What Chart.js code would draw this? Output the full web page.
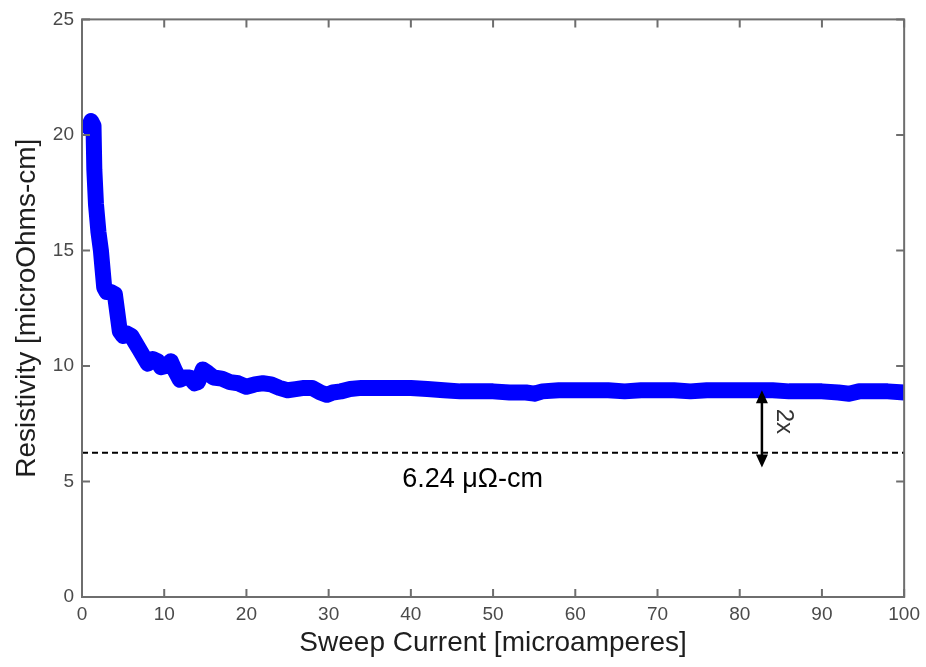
<!DOCTYPE html>
<html>
<head>
<meta charset="utf-8">
<title>Resistivity vs Sweep Current</title>
<script src="https://cdn.jsdelivr.net/npm/chart.js@4"></script>
<style>
  body { margin: 0; background: #fff; }
  canvas { display: block; }
</style>
</head>
<body>
<canvas id="chart" width="926" height="667"></canvas>
<script>
// measured sweep: current in microamperes, resistivity in microOhm-cm
const currentUA = [
  0.9, 1.1, 1.4, 1.5, 1.7, 2.0, 2.3, 2.5, 2.7, 3.0, 3.5, 4.0, 4.3, 4.6, 5.0, 5.5, 6.0,
  6.5, 7.0, 7.5, 8.0, 8.6, 9.2, 9.6, 10.2, 10.8, 11.3, 11.9, 12.5, 13.1, 13.7, 14.1,
  14.7, 15.3, 16, 17, 18, 19, 20, 21, 22, 23, 24, 25, 26, 27, 28, 29, 29.8, 30.5,
  31.5, 32.6, 34, 36, 38, 40, 42, 44, 46, 48, 50, 52, 54, 55, 56, 58, 60, 62, 64,
  66, 68, 70, 72, 74, 76, 78, 80, 82, 84, 86, 88, 90, 92, 93.3, 94.5, 96, 98, 100
];
const resistivity = [
  20.3, 20.6, 20.4, 18.5, 17.0, 15.8, 15.0, 14.2, 13.4, 13.2, 13.2, 13.1, 12.3, 11.5, 11.3, 11.4, 11.3,
  11.0, 10.7, 10.4, 10.1, 10.3, 10.2, 9.95, 10.0, 10.2, 9.8, 9.4, 9.5, 9.5, 9.25, 9.3,
  9.85, 9.7, 9.5, 9.45, 9.3, 9.25, 9.1, 9.2, 9.25, 9.2, 9.05, 8.95, 9.0, 9.05, 9.05, 8.85, 8.75, 8.85,
  8.9, 9.0, 9.05, 9.05, 9.05, 9.05, 9.0, 8.95, 8.9, 8.9, 8.9, 8.85, 8.85, 8.8, 8.9, 8.95, 8.95, 8.95, 8.95,
  8.9, 8.95, 8.95, 8.95, 8.9, 8.95, 8.95, 8.95, 8.95, 8.95, 8.9, 8.9, 8.9, 8.85, 8.8, 8.9, 8.9, 8.9, 8.85
];

// bulk reference value and the ratio marker
const bulkValue = 6.24;
const bulkLabel = '6.24 \u03bc\u03a9-cm';
const ratioLabel = '2x';
const arrowAt = 82.7;
const arrowFrom = 8.95;
const arrowTo = 5.6;

const xTicks = [0, 10, 20, 30, 40, 50, 60, 70, 80, 90, 100];
const yTicks = [0, 5, 10, 15, 20, 25];

const FONT = '"Liberation Sans", Arial, sans-serif';

// box around the plot with inward ticks on all four sides, plus the annotations
const framePlugin = {
  id: 'frame',
  afterDatasetsDraw(chart) {
    const { ctx, chartArea: a, scales: { x, y } } = chart;
    ctx.save();
    ctx.strokeStyle = '#6e6e6e';
    ctx.lineWidth = 2;
    ctx.beginPath();
    xTicks.forEach(v => {
      const px = x.getPixelForValue(v);
      ctx.moveTo(px, a.bottom); ctx.lineTo(px, a.bottom - 8);
      ctx.moveTo(px, a.top); ctx.lineTo(px, a.top + 8);
    });
    yTicks.forEach(v => {
      const py = y.getPixelForValue(v);
      ctx.moveTo(a.left, py); ctx.lineTo(a.left + 8, py);
      ctx.moveTo(a.right, py); ctx.lineTo(a.right - 8, py);
    });
    ctx.stroke();
    ctx.strokeRect(a.left, a.top, a.right - a.left, a.bottom - a.top);

    // double-headed arrow between the plateau and the bulk line
    const ax = x.getPixelForValue(arrowAt);
    const top = y.getPixelForValue(arrowFrom);
    const bot = y.getPixelForValue(arrowTo);
    ctx.strokeStyle = '#000';
    ctx.fillStyle = '#000';
    ctx.lineWidth = 2.5;
    ctx.beginPath();
    ctx.moveTo(ax, top + 10); ctx.lineTo(ax, bot - 10);
    ctx.stroke();
    ctx.beginPath();
    ctx.moveTo(ax, top); ctx.lineTo(ax - 6, top + 13); ctx.lineTo(ax + 6, top + 13); ctx.closePath();
    ctx.moveTo(ax, bot); ctx.lineTo(ax - 6, bot - 13); ctx.lineTo(ax + 6, bot - 13); ctx.closePath();
    ctx.fill();

    ctx.fillStyle = '#333';
    ctx.font = '24px ' + FONT;
    ctx.textAlign = 'center';
    ctx.textBaseline = 'middle';
    ctx.save();
    ctx.translate(x.getPixelForValue(85.4), y.getPixelForValue(7.6));
    ctx.rotate(Math.PI / 2);
    ctx.fillText(ratioLabel, 0, 0);
    ctx.restore();

    ctx.fillStyle = '#000';
    ctx.font = '27px ' + FONT;
    ctx.fillText(bulkLabel, x.getPixelForValue(47.5), y.getPixelForValue(5.1));
    ctx.restore();
  }
};

const ctx = document.getElementById('chart').getContext('2d');
new Chart(ctx, {
  type: 'line',
  data: {
    datasets: [
      {
        data: currentUA.map((c, i) => ({ x: c, y: resistivity[i] })),
        borderColor: '#0000ff',
        borderWidth: 16,
        borderJoinStyle: 'round',
        borderCapStyle: 'round',
        pointRadius: 0,
        tension: 0,
        clip: 0
      },
      {
        data: [{ x: 0, y: bulkValue }, { x: 100, y: bulkValue }],
        borderColor: '#000',
        borderWidth: 2,
        borderDash: [6, 4],
        pointRadius: 0
      }
    ]
  },
  options: {
    responsive: false,
    animation: false,
    layout: { padding: { top: 18, right: 21, left: 0, bottom: 0 } },
    plugins: { legend: { display: false }, tooltip: { enabled: false } },
    scales: {
      x: {
        type: 'linear',
        min: 0,
        max: 100,
        afterBuildTicks: s => { s.ticks = xTicks.map(v => ({ value: v })); },
        afterFit: s => { s.height = 70; },
        grid: { display: false, drawTicks: false },
        border: { display: false },
        ticks: { padding: 6, color: '#4a4a4a', font: { family: FONT, size: 19 }, maxRotation: 0 },
        title: {
          display: true,
          text: 'Sweep Current [microamperes]',
          color: '#1e1e1e',
          font: { family: FONT, size: 28 },
          padding: { top: 0, bottom: 7 }
        }
      },
      y: {
        min: 0,
        max: 25,
        afterBuildTicks: s => { s.ticks = yTicks.map(v => ({ value: v })); },
        afterFit: s => { s.width = 82; },
        grid: { display: false, drawTicks: false },
        border: { display: false },
        ticks: { padding: 8, color: '#4a4a4a', font: { family: FONT, size: 19 } },
        title: {
          display: true,
          text: 'Resistivity [microOhms-cm]',
          color: '#1e1e1e',
          font: { family: FONT, size: 28 },
          padding: { top: 10, bottom: 0 }
        }
      }
    }
  },
  plugins: [framePlugin]
});
</script>
</body>
</html>
